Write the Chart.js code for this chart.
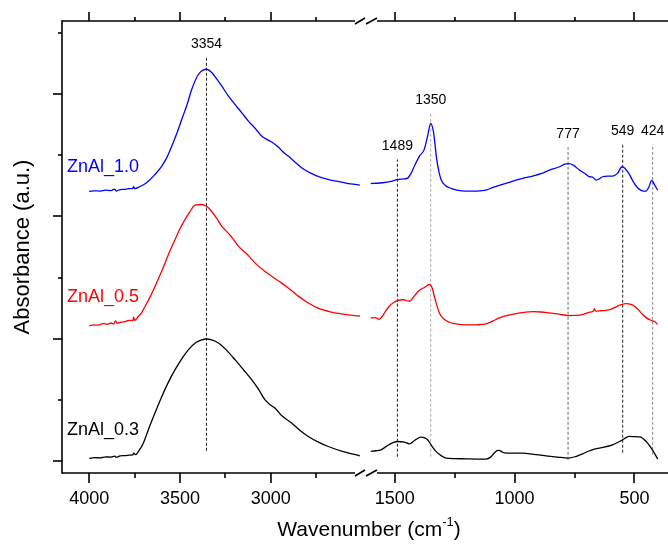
<!DOCTYPE html>
<html>
<head>
<meta charset="utf-8">
<title>FTIR ZnAl</title>
<script src="https://cdn.jsdelivr.net/npm/chart.js@4.4.1/dist/chart.umd.min.js"></script>
<style>
  html, body { margin: 0; padding: 0; background: #fff; }
  canvas { display: block; }
</style>
</head>
<body>
<canvas id="ftirChart" width="668" height="546"></canvas>
<script>
// spectra, offset vertically; high range 4000-2500 and low range 1600-400 cm-1
const SERIES_NAMES = ['ZnAl_0.3', 'ZnAl_0.5', 'ZnAl_1.0'];
const SERIES_COLORS = ['#000000', '#ff0000', '#0000ff'];
const LABEL_Y = [0.254, 1.344, 2.402];

const HIGH_WN_03 = [4000, 3970, 3940, 3910, 3880, 3860, 3850, 3830, 3800, 3780, 3760, 3755, 3745, 3725, 3706, 3685, 3660, 3630, 3600, 3565, 3527, 3490, 3453, 3410, 3380, 3358, 3325, 3288, 3240, 3197, 3150, 3105, 3065, 3032, 3000, 2977, 2940, 2885, 2840, 2793, 2740, 2683, 2600, 2509];
const HIGH_ABS_03 = [0.020, 0.026, 0.024, 0.032, 0.030, 0.038, 0.028, 0.040, 0.042, 0.046, 0.048, 0.062, 0.050, 0.085, 0.131, 0.21, 0.309, 0.42, 0.527, 0.64, 0.746, 0.835, 0.910, 0.97, 0.99, 0.997, 0.99, 0.964, 0.90, 0.828, 0.745, 0.664, 0.58, 0.500, 0.455, 0.432, 0.37, 0.309, 0.25, 0.199, 0.155, 0.117, 0.075, 0.041];
const LOW_WN_03 = [1600, 1580, 1557, 1530, 1505, 1488, 1460, 1439, 1415, 1391, 1375, 1363, 1345, 1328, 1305, 1286, 1250, 1203, 1160, 1119, 1100, 1085, 1070, 1064, 1050, 1036, 1000, 966, 920, 869, 820, 776, 745, 716, 690, 667, 630, 591, 570, 549, 535, 521, 500, 473, 458, 445, 425, 403];
const LOW_ABS_03 = [0.077, 0.082, 0.090, 0.125, 0.15, 0.158, 0.152, 0.139, 0.17, 0.194, 0.188, 0.172, 0.12, 0.077, 0.04, 0.022, 0.018, 0.016, 0.014, 0.014, 0.03, 0.063, 0.085, 0.085, 0.07, 0.063, 0.063, 0.063, 0.052, 0.041, 0.03, 0.022, 0.035, 0.057, 0.08, 0.096, 0.11, 0.131, 0.15, 0.172, 0.19, 0.199, 0.198, 0.194, 0.17, 0.145, 0.09, 0.014];

const HIGH_WN_05 = [4000, 3975, 3950, 3925, 3900, 3880, 3865, 3855, 3845, 3825, 3800, 3780, 3760, 3755, 3750, 3730, 3710, 3692, 3665, 3637, 3610, 3582, 3555, 3527, 3500, 3472, 3445, 3417, 3380, 3360, 3343, 3300, 3270, 3220, 3178, 3130, 3087, 3040, 2995, 2950, 2903, 2850, 2793, 2740, 2683, 2600, 2509];
const HIGH_ABS_05 = [1.105, 1.112, 1.110, 1.122, 1.118, 1.128, 1.120, 1.145, 1.125, 1.135, 1.140, 1.150, 1.148, 1.175, 1.150, 1.180, 1.215, 1.265, 1.34, 1.429, 1.52, 1.620, 1.72, 1.811, 1.90, 1.975, 2.04, 2.093, 2.098, 2.088, 2.071, 1.99, 1.921, 1.84, 1.757, 1.69, 1.620, 1.56, 1.511, 1.465, 1.415, 1.35, 1.292, 1.25, 1.224, 1.20, 1.183];
const LOW_WN_05 = [1600, 1580, 1565, 1555, 1540, 1523, 1505, 1488, 1465, 1439, 1418, 1397, 1375, 1356, 1345, 1335, 1324, 1314, 1295, 1272, 1240, 1203, 1160, 1119, 1090, 1064, 1030, 994, 960, 925, 890, 855, 815, 776, 745, 716, 690, 672, 667, 662, 640, 619, 600, 577, 555, 535, 515, 500, 483, 466, 450, 431, 415, 403];
const LOW_ABS_05 = [1.169, 1.172, 1.158, 1.175, 1.22, 1.265, 1.295, 1.314, 1.318, 1.306, 1.35, 1.396, 1.42, 1.443, 1.42, 1.347, 1.27, 1.210, 1.16, 1.134, 1.118, 1.112, 1.113, 1.120, 1.145, 1.169, 1.19, 1.205, 1.215, 1.221, 1.218, 1.210, 1.2, 1.189, 1.19, 1.197, 1.215, 1.225, 1.245, 1.225, 1.228, 1.232, 1.24, 1.26, 1.278, 1.287, 1.28, 1.265, 1.235, 1.197, 1.17, 1.150, 1.138, 1.115];

const HIGH_WN_10 = [4000, 3970, 3940, 3910, 3880, 3860, 3850, 3830, 3800, 3780, 3760, 3755, 3750, 3720, 3690, 3673, 3640, 3600, 3570, 3545, 3515, 3490, 3460, 3435, 3398, 3370, 3354, 3325, 3300, 3270, 3235, 3197, 3160, 3123, 3085, 3050, 3015, 2995, 2960, 2930, 2903, 2870, 2830, 2780, 2720, 2660, 2610, 2560, 2509];
const HIGH_ABS_10 = [2.205, 2.210, 2.208, 2.215, 2.212, 2.224, 2.208, 2.220, 2.222, 2.228, 2.230, 2.245, 2.228, 2.245, 2.270, 2.290, 2.340, 2.412, 2.49, 2.576, 2.69, 2.795, 2.92, 3.041, 3.164, 3.200, 3.205, 3.178, 3.13, 3.068, 2.99, 2.918, 2.85, 2.781, 2.72, 2.658, 2.625, 2.609, 2.57, 2.525, 2.494, 2.45, 2.399, 2.355, 2.317, 2.295, 2.281, 2.266, 2.257];
const LOW_WN_10 = [1600, 1575, 1550, 1520, 1488, 1460, 1446, 1430, 1418, 1397, 1377, 1363, 1350, 1338, 1325, 1315, 1307, 1290, 1272, 1240, 1203, 1160, 1119, 1090, 1064, 1030, 994, 960, 925, 890, 855, 815, 790, 776, 755, 730, 705, 688, 675, 660, 645, 633, 610, 591, 570, 552, 540, 521, 505, 487, 470, 452, 440, 428, 415, 403];
const LOW_ABS_10 = [2.270, 2.272, 2.276, 2.285, 2.303, 2.308, 2.314, 2.36, 2.413, 2.494, 2.549, 2.658, 2.762, 2.686, 2.467, 2.36, 2.303, 2.255, 2.235, 2.215, 2.207, 2.208, 2.216, 2.238, 2.254, 2.275, 2.298, 2.315, 2.331, 2.35, 2.380, 2.405, 2.428, 2.432, 2.42, 2.380, 2.35, 2.325, 2.322, 2.298, 2.31, 2.325, 2.33, 2.331, 2.355, 2.407, 2.395, 2.344, 2.285, 2.235, 2.212, 2.207, 2.24, 2.295, 2.255, 2.216];

// marked bands: position, top and bottom of the dashed guide
const PEAK_WN = [3354, 1489, 1350, 777, 549, 424];
const PEAK_TOP = [3.303, 2.467, 2.844, 2.566, 2.590, 2.590];
const PEAK_BOTTOM = [0.082, 0.033, 0.033, 0.008, 0.066, 0.049];
const PEAK_COLORS = ['#222222', '#222222', '#aaaaaa', '#666666', '#222222', '#888888'];

const HIGH_TICKS = [4000, 3500, 3000];
const HIGH_MINOR = [3750, 3250, 2750];
const LOW_TICKS = [1500, 1000, 500];
const LOW_MINOR = [1250, 750];
const Y_MAJOR = [0, 1, 2, 3];
const Y_MINOR = [0.5, 1.5, 2.5, 3.5];

const FONT = '"Liberation Sans", Arial, sans-serif';

function toPoints(xs, ys) {
  return xs.map((x, i) => ({ x, y: ys[i] }));
}

const highData = [toPoints(HIGH_WN_03, HIGH_ABS_03), toPoints(HIGH_WN_05, HIGH_ABS_05), toPoints(HIGH_WN_10, HIGH_ABS_10)];
const lowData = [toPoints(LOW_WN_03, LOW_ABS_03), toPoints(LOW_WN_05, LOW_ABS_05), toPoints(LOW_WN_10, LOW_ABS_10)];

const datasets = [];
SERIES_NAMES.forEach((name, i) => {
  [['x1', highData[i]], ['x2', lowData[i]]].forEach(([axis, pts]) => {
    datasets.push({
      label: name,
      data: pts,
      xAxisID: axis,
      yAxisID: 'y',
      borderColor: SERIES_COLORS[i],
      borderWidth: 1.3,
      pointRadius: 0,
      cubicInterpolationMode: 'monotone',
      order: 0
    });
  });
});

PEAK_WN.forEach((wn, i) => {
  datasets.push({
    label: 'peak ' + wn,
    data: [{ x: wn, y: PEAK_BOTTOM[i] }, { x: wn, y: PEAK_TOP[i] }],
    xAxisID: wn > 2000 ? 'x1' : 'x2',
    yAxisID: 'y',
    borderColor: PEAK_COLORS[i],
    borderWidth: 1,
    borderDash: [3, 2],
    pointRadius: 0,
    order: 1
  });
});

function line(ctx, xa, ya, xb, yb) {
  ctx.beginPath();
  ctx.moveTo(xa, ya);
  ctx.lineTo(xb, yb);
  ctx.stroke();
}

// frame with broken axis, tick marks, band labels and axis titles
const framePlugin = {
  id: 'framePlugin',
  afterDraw(chart) {
    const { ctx, chartArea: a, scales } = chart;
    const { x1, x2, y } = scales;
    const brk = x1.right;

    ctx.save();
    ctx.strokeStyle = '#000';
    ctx.lineWidth = 1.6;
    line(ctx, a.left, a.top - 0.8, a.left, a.bottom + 0.8);
    [a.top, a.bottom].forEach(yy => {
      line(ctx, a.left, yy, brk - 11, yy);
      line(ctx, brk + 11, yy, a.right, yy);
      line(ctx, brk - 11, yy + 3, brk - 1, yy - 3);
      line(ctx, brk, yy + 3, brk + 11, yy - 3);
    });

    const xTicks = [[x1, HIGH_TICKS, 10, 9], [x1, HIGH_MINOR, 5, 4], [x2, LOW_TICKS, 10, 9], [x2, LOW_MINOR, 5, 4]];
    xTicks.forEach(([sc, vals, down, up]) => {
      vals.forEach(v => {
        const px = Math.round(sc.getPixelForValue(v));
        line(ctx, px, a.bottom, px, a.bottom + down);
        line(ctx, px, a.top, px, a.top - up);
      });
    });
    Y_MAJOR.forEach(v => {
      const py = Math.round(y.getPixelForValue(v));
      line(ctx, a.left, py, a.left - 9, py);
    });
    Y_MINOR.forEach(v => {
      const py = Math.round(y.getPixelForValue(v));
      line(ctx, a.left, py, a.left - 4, py);
    });

    // band positions above the guides
    ctx.fillStyle = '#000';
    ctx.font = '14px ' + FONT;
    ctx.textAlign = 'center';
    ctx.textBaseline = 'middle';
    PEAK_WN.forEach((wn, i) => {
      const sc = wn > 2000 ? x1 : x2;
      ctx.fillText(String(wn), sc.getPixelForValue(wn), y.getPixelForValue(PEAK_TOP[i]) - 13);
    });

    // sample names next to each trace
    ctx.font = '18px ' + FONT;
    ctx.textAlign = 'left';
    SERIES_NAMES.forEach((name, i) => {
      ctx.fillStyle = SERIES_COLORS[i];
      ctx.fillText(name, x1.getPixelForValue(4122), y.getPixelForValue(LABEL_Y[i]));
    });

    // axis titles
    ctx.fillStyle = '#000';
    ctx.save();
    ctx.translate(23, (a.top + a.bottom) / 2);
    ctx.rotate(-Math.PI / 2);
    ctx.font = '22px ' + FONT;
    ctx.textAlign = 'center';
    ctx.fillText('Absorbance (a.u.)', 0, 0);
    ctx.restore();

    const main = 'Wavenumber (cm';
    const sup = '-1';
    const tail = ')';
    ctx.font = '21px ' + FONT;
    const wMain = ctx.measureText(main).width;
    const wTail = ctx.measureText(tail).width;
    ctx.font = '13px ' + FONT;
    const wSup = ctx.measureText(sup).width;
    let tx = 369 - (wMain + wSup + wTail) / 2;
    const ty = 530;
    ctx.textAlign = 'left';
    ctx.font = '21px ' + FONT;
    ctx.fillText(main, tx, ty);
    tx += wMain;
    ctx.font = '13px ' + FONT;
    ctx.fillText(sup, tx, ty - 8);
    tx += wSup;
    ctx.font = '21px ' + FONT;
    ctx.fillText(tail, tx, ty);
    ctx.restore();
  }
};

function xScale(min, max, ticks, weight) {
  return {
    type: 'linear',
    position: 'bottom',
    stack: 'wavenumber',
    stackWeight: weight,
    reverse: true,
    min,
    max,
    grid: { display: false, drawTicks: false },
    border: { display: false },
    afterBuildTicks: (scale) => { scale.ticks = ticks.map(v => ({ value: v })); },
    afterFit: (scale) => {
      // fixed axis band; no extra room for edge labels
      scale.height = 73;
      scale.paddingLeft = 0;
      scale.paddingRight = 0;
    },
    ticks: {
      padding: 15,
      color: '#000',
      font: { family: FONT, size: 18 },
      maxRotation: 0,
      callback: (v) => String(v)
    }
  };
}

new Chart(document.getElementById('ftirChart').getContext('2d'), {
  type: 'line',
  data: { datasets },
  options: {
    responsive: false,
    animation: false,
    devicePixelRatio: 1,
    layout: { padding: { left: 62, top: 21, right: 0, bottom: 0 } },
    plugins: { legend: { display: false }, tooltip: { enabled: false } },
    scales: {
      x1: xScale(2475, 4150, HIGH_TICKS, 304),
      x2: xScale(360, 1620, LOW_TICKS, 302),
      y: { type: 'linear', display: false, min: -0.1, max: 3.6 }
    }
  },
  plugins: [framePlugin]
});
</script>
</body>
</html>
